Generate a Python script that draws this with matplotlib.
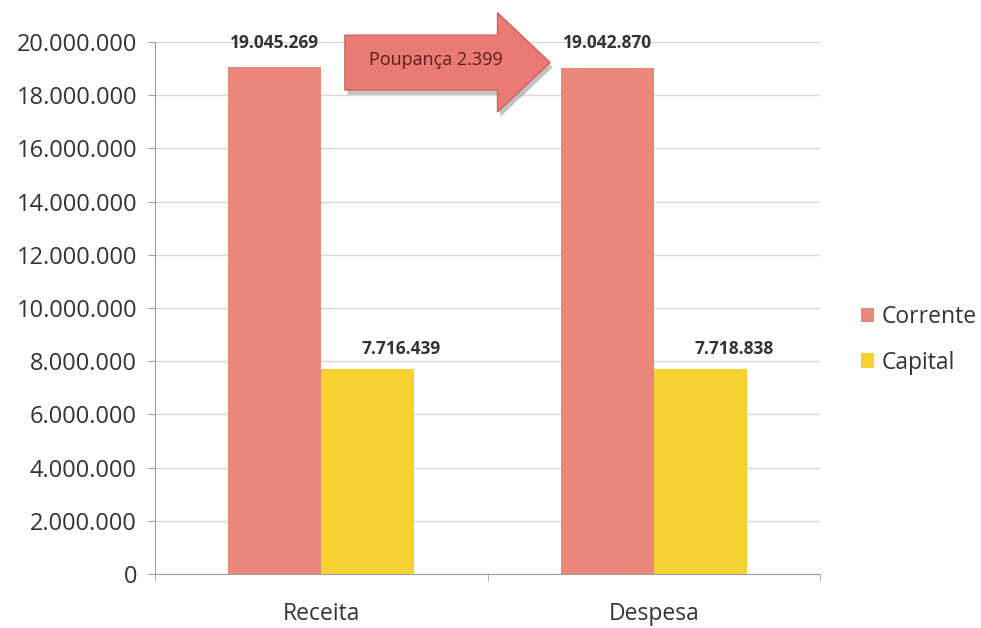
import matplotlib.pyplot as plt
import numpy as np
from matplotlib.patches import Polygon
from matplotlib.ticker import FuncFormatter

categorias = ["Receita", "Despesa"]
corrente = [19045269, 19042870]
capital = [7716439, 7718838]
series = ["Corrente", "Capital"]
poupanca = "Poupança 2.399"

plt.rcParams['font.family'] = ['Open Sans', 'DejaVu Sans']

fig = plt.figure(figsize=(9.81, 6.28), dpi=100)
ax = fig.add_axes([0.158, 0.086, 0.678, 0.847])

x = np.arange(len(categorias))
w = 0.28
ax.bar(x - w / 2, corrente, w, color="#E8877A", label=series[0], zorder=2)
ax.bar(x + w / 2, capital, w, color="#F5D232", label=series[1], zorder=2)

def fmt(v):
    return f"{v:,.0f}".replace(",", ".")

for xi, v in zip(x - w / 2, corrente):
    ax.annotate(fmt(v), (xi, v), xytext=(0, 11), textcoords="offset points",
                ha="center", va="bottom", fontsize=12.5, fontweight="bold",
                color="#333333")
for xi, v in zip(x + w / 2, capital):
    ax.annotate(fmt(v), (xi, v), xytext=(24, 8), textcoords="offset points",
                ha="center", va="bottom", fontsize=12.5, fontweight="bold",
                color="#333333")

ax.set_xlim(-0.5, 1.5)
ax.set_ylim(0, 20000000)
ax.set_yticks(np.arange(0, 20000001, 2000000))
ax.yaxis.set_major_formatter(FuncFormatter(lambda v, p: fmt(v)))
ax.set_xticks(x)
ax.set_xticklabels(categorias)
ax.set_xticks([-0.5, 0.5, 1.5], minor=True)
ax.tick_params(axis="x", which="major", length=0, pad=20, labelsize=16.5, labelcolor="#333333")
ax.tick_params(axis="x", which="minor", length=5, color="#a0a0a0", direction="out")
ax.tick_params(axis="y", length=5, color="#a0a0a0", labelsize=17, labelcolor="#333333", pad=8)
ax.grid(axis="y", color="#d8d8d8", linewidth=1, zorder=0)
for s in ["top", "right"]:
    ax.spines[s].set_visible(False)
for s in ["left", "bottom"]:
    ax.spines[s].set_color("#a0a0a0")

# seta "Poupança"
x0, x1, xh = 0.071, 0.688, 0.53
yb0, yb1 = 18.2e6, 20.26e6
yh0, yh1 = 17.37e6, 21.1e6
ymid = (yb0 + yb1) / 2
pts = [(x0, yb0), (xh, yb0), (xh, yh0), (x1, ymid), (xh, yh1), (xh, yb1), (x0, yb1)]
sh = [(px + 0.008, py - 0.18e6) for px, py in pts]
ax.add_patch(Polygon(sh, closed=True, facecolor="#9a9a9a", edgecolor="none",
                     alpha=0.6, zorder=4, clip_on=False))
ax.add_patch(Polygon(pts, closed=True, facecolor="#E97B74", edgecolor="#D0625C",
                     linewidth=1, zorder=5, clip_on=False))
ax.text((x0 + xh) / 2 + 0.045, ymid + 0.1e6, poupanca, ha="center", va="center",
        fontsize=13, color="#5a1f1c", zorder=6)

leg = ax.legend(loc="center left", bbox_to_anchor=(1.03, 0.44), frameon=False,
                fontsize=16.5, handlelength=0.6, handleheight=0.6, labelspacing=0.95,
                handletextpad=0.3)
for t in leg.get_texts():
    t.set_color("#333333")

fig.savefig("out.png", dpi=100)
